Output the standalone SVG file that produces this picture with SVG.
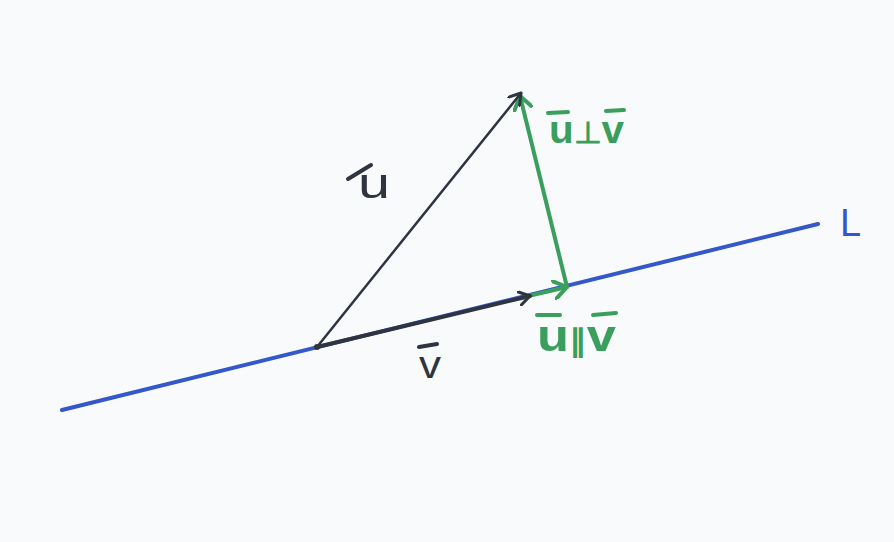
<svg xmlns="http://www.w3.org/2000/svg" width="894" height="542" viewBox="0 0 894 542">
<style>
.lbl{font-family:"Liberation Sans",Arial,sans-serif;}
.dark{stroke:#2e3440;fill:none;stroke-linecap:round;stroke-linejoin:round}
.green{stroke:#3a9f5c;fill:none;stroke-linecap:round;stroke-linejoin:round}
.blue{stroke:#3457c9;fill:none;stroke-linecap:round}
.bar{stroke-width:4;stroke-linecap:round}
</style>
<defs>
<marker id="arDark" viewBox="-12 -8 14 16" markerWidth="14" markerHeight="16" refX="0" refY="0" orient="auto" markerUnits="userSpaceOnUse">
<path d="M-11,-7 L0,0 L-11,7" fill="none" stroke="#2e3440" stroke-width="3" stroke-linecap="round" stroke-linejoin="round"/>
</marker>
<marker id="arGreen" viewBox="-14 -10 16 20" markerWidth="16" markerHeight="20" refX="0" refY="0" orient="auto" markerUnits="userSpaceOnUse">
<path d="M-13,-9 L0,0 L-13,9" fill="none" stroke="#3a9f5c" stroke-width="4" stroke-linecap="round" stroke-linejoin="round"/>
</marker>
</defs>
<rect width="894" height="542" fill="#f9fafc"/>
<g id="connectors">
<line id="lineL" class="blue" x1="62" y1="410" x2="818" y2="224" stroke-width="4"/>
<line id="vecUpar" class="green" x1="528" y1="296" x2="567" y2="287" stroke-width="4" marker-end="url(#arGreen)"/>
<line id="vecUperp" class="green" x1="567" y1="287" x2="520" y2="96" stroke-width="4" marker-end="url(#arGreen)"/>
<line id="vecU" class="dark" x1="317" y1="347" x2="521" y2="93" stroke-width="2.5" marker-end="url(#arDark)"/>
<line id="vecV" class="dark" x1="317" y1="347" x2="530" y2="296" stroke-width="4" marker-end="url(#arDark)"/>
<circle cx="317" cy="347" r="3" fill="#2e3440"/>
</g>
<g id="label-L">
<text class="lbl" x="840" y="236" font-size="38" fill="#3457c9">L</text>
</g>
<g id="label-u">
<line class="bar" x1="348" y1="179" x2="371" y2="165" stroke="#2e3440"/>
<text class="lbl" x="358" y="198" font-size="42" fill="#2e3440" textLength="32" lengthAdjust="spacingAndGlyphs">u</text>
</g>
<g id="label-v">
<line class="bar" x1="419" y1="347" x2="437" y2="344" stroke="#2e3440"/>
<text class="lbl" x="419" y="378" font-size="38" fill="#2e3440" textLength="22" lengthAdjust="spacingAndGlyphs">v</text>
</g>
<g id="label-uperp">
<line class="bar" x1="548" y1="113" x2="568" y2="112" stroke="#3a9f5c"/>
<line class="bar" x1="606" y1="111" x2="624" y2="110" stroke="#3a9f5c"/>
<text class="lbl" x="549" y="143" font-size="38" font-weight="bold" fill="#3a9f5c" textLength="75" lengthAdjust="spacingAndGlyphs">u<tspan font-size="30">⊥</tspan>v</text>
</g>
<g id="label-upar">
<line class="bar" x1="537" y1="315" x2="560" y2="315" stroke="#3a9f5c"/>
<line class="bar" x1="593" y1="315" x2="616" y2="313" stroke="#3a9f5c"/>
<text class="lbl" x="537" y="351" font-size="44" font-weight="bold" fill="#3a9f5c" textLength="79" lengthAdjust="spacingAndGlyphs">u<tspan font-size="30">∥</tspan>v</text>
</g>
</svg>
